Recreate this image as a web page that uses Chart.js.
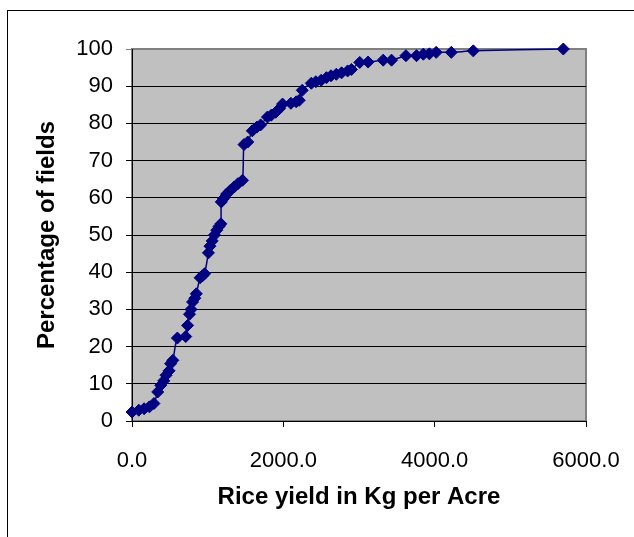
<!DOCTYPE html>
<html>
<head>
<meta charset="utf-8">
<script src="https://cdn.jsdelivr.net/npm/chart.js@4/dist/chart.umd.min.js"></script>
<style>
    body { margin: 0; background: #fff; overflow: hidden; }
    #frame { position: absolute; left: 7px; top: 10px; width: 640px; height: 540px; border: 1px solid #000; }
    #chart { position: absolute; left: 0; top: 0; }
</style>
</head>
<body>
<div id="frame"></div>
<canvas id="chart" width="634" height="537"></canvas>
<script>
// Rice yield (Kg per Acre) against cumulative percentage of fields
var riceYield = [0, 90, 160, 230, 290, 340, 380, 420, 450, 490, 510, 540, 600, 710, 735,
    760, 780, 800, 830, 850, 900, 930, 960, 1010, 1030, 1060, 1090, 1120, 1150, 1175,
    1180, 1210, 1250, 1300, 1350, 1400, 1460, 1480, 1530, 1590, 1650, 1700, 1790, 1840, 1900,
    1950, 1990, 2100, 2170, 2210, 2250, 2370, 2430, 2500, 2570, 2630, 2700, 2770, 2850, 2900,
    3010, 3120, 3320, 3430, 3620, 3760, 3850, 3930, 4020, 4220, 4510, 5700];
var percentFields = [2.4, 2.9, 3.3, 3.8, 4.7, 7.8, 9.6, 10.8, 12.3, 13.5, 15.4, 16.3, 22.3, 22.7, 25.7,
    28.7, 30.0, 32.0, 33.0, 34.2, 38.5, 39.0, 39.6, 45.2, 47.0, 48.4, 50.0, 51.3, 52.3, 53.0,
    58.9, 59.8, 61.0, 62.0, 62.9, 63.8, 64.7, 74.3, 75.0, 78.0, 79.0, 79.6, 81.7, 82.2, 83.0,
    84.0, 85.2, 85.4, 85.8, 86.2, 88.9, 90.8, 91.2, 91.6, 92.3, 92.8, 93.2, 93.6, 94.1, 94.5,
    96.4, 96.5, 97.0, 97.0, 98.2, 98.2, 98.6, 98.7, 99.1, 99.1, 99.5, 100];

var xTicks = [0, 2000, 4000, 6000];
var yMax = 100;

var font = "Arial, 'Liberation Sans', sans-serif";

var points = riceYield.map(function (x, i) {
    return { x: x, y: percentFields[i] };
});

//Grey plot area with a grey border
var plotBackground = {
    id: 'plotBackground',
    beforeDraw: function (chart) {
        var a = chart.chartArea;
        var ctx = chart.ctx;
        ctx.save();
        ctx.fillStyle = '#c0c0c0';
        ctx.fillRect(a.left, a.top, a.right - a.left, a.bottom - a.top);
        ctx.strokeStyle = '#808080';
        ctx.lineWidth = 2;
        ctx.strokeRect(a.left, a.top, a.right - a.left, a.bottom - a.top);
        ctx.restore();
    }
};

var $chart = new Chart(document.getElementById('chart'), {
    type: 'scatter',
    data: {
        datasets: [{
            data: points,
            showLine: true,
            tension: 0.25,
            borderColor: '#000080',
            borderWidth: 1.5,
            backgroundColor: '#000080',
            pointStyle: 'rectRot',
            pointRadius: 6,
            pointBorderWidth: 1,
            pointBorderColor: '#000080',
            clip: false
        }]
    },
    options: {
        responsive: false,
        animation: false,
        layout: { padding: { left: 0, top: 49, right: 48, bottom: 0 } },
        plugins: {
            legend: { display: false },
            tooltip: { enabled: false }
        },
        scales: {
            x: {
                type: 'linear',
                min: 0,
                max: 6000,
                afterBuildTicks: function (scale) {
                    scale.ticks = xTicks.map(function (v) { return { value: v }; });
                },
                afterFit: function (scale) {
                    // keep the plot width fixed, labels may hang over the edge
                    scale.height = 116;
                    scale.paddingLeft = 0;
                    scale.paddingRight = 0;
                },
                grid: { drawOnChartArea: false, tickLength: 6, color: '#000' },
                border: { color: '#000', width: 1 },
                ticks: {
                    padding: 21,
                    color: '#000',
                    maxRotation: 0,
                    font: { family: font, size: 22 },
                    callback: function (v) { return Number(v).toFixed(1); }
                },
                title: {
                    display: true,
                    text: 'Rice yield in Kg per Acre',
                    color: '#000',
                    padding: { top: 0, bottom: 25 },
                    font: { family: font, size: 24, weight: 'bold' }
                }
            },
            y: {
                min: 0,
                max: yMax,
                afterFit: function (scale) {
                    scale.width = 132;
                    scale.paddingTop = 0;
                    scale.paddingBottom = 0;
                },
                grid: {
                    tickLength: 6,
                    color: function (c) { return c.tick && c.tick.value === yMax ? '#808080' : '#000'; }
                },
                border: { color: '#000', width: 1 },
                ticks: {
                    stepSize: 10,
                    padding: 13,
                    color: '#000',
                    font: { family: font, size: 22 }
                },
                title: {
                    display: true,
                    text: 'Percentage of fields',
                    color: '#000',
                    padding: { top: 33, bottom: 0 },
                    font: { family: font, size: 24, weight: 'bold' }
                }
            }
        }
    },
    plugins: [plotBackground]
});
</script>
</body>
</html>
